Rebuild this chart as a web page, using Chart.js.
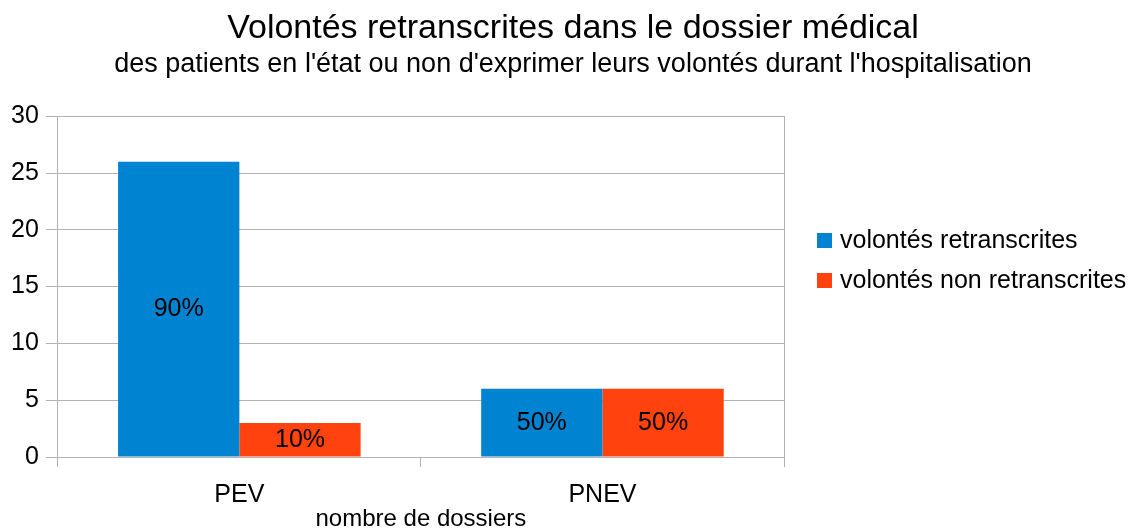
<!DOCTYPE html>
<html>
<head>
<meta charset="utf-8">
<script src="https://cdn.jsdelivr.net/npm/chart.js@4/dist/chart.umd.min.js"></script>
<style>
  html, body { margin: 0; padding: 0; background: #fff; }
  #wrap { width: 1142px; height: 531px; }
</style>
</head>
<body>
<div id="wrap"><canvas id="c1"></canvas></div>
<script>
  // data
  var categories = ['PEV', 'PNEV']
  var seriesNames = ['volontés retranscrites', 'volontés non retranscrites']
  var retranscrites = [26, 6]
  var nonRetranscrites = [3, 6]
  var pctRetranscrites = ['90%', '50%']
  var pctNonRetranscrites = ['10%', '50%']
  var colors = ['#0084d1', '#ff420e']

  var font = '"Liberation Sans", Arial, sans-serif'
  var gridColor = '#b3b3b3'

  // percent labels inside bars
  var barLabels = {
    id: 'barLabels',
    afterDatasetsDraw: function(chart) {
      var ctx = chart.ctx
      var labels = [pctRetranscrites, pctNonRetranscrites]
      ctx.save()
      ctx.font = '25px ' + font
      ctx.fillStyle = '#000'
      ctx.textAlign = 'center'
      ctx.textBaseline = 'middle'
      chart.data.datasets.forEach(function(ds, i) {
        chart.getDatasetMeta(i).data.forEach(function(bar, j) {
          var mid = (bar.y + bar.base) / 2
          ctx.fillText(labels[i][j], bar.x, mid)
        })
      })
      ctx.restore()
    }
  }

  // legend on the right side
  var sideLegend = {
    id: 'sideLegend',
    afterDraw: function(chart) {
      var ctx = chart.ctx
      var area = chart.chartArea
      ctx.save()
      ctx.font = '25px ' + font
      ctx.textBaseline = 'middle'
      var x = area.right + 33
      var y = 241
      chart.data.datasets.forEach(function(ds, i) {
        ctx.fillStyle = ds.backgroundColor
        ctx.fillRect(x, y + i * 40 - 8, 15, 15)
        ctx.fillStyle = '#000'
        ctx.fillText(ds.label, x + 23, y + i * 40)
      })
      ctx.restore()
    }
  }

  var ctx = document.getElementById('c1')
  var chart1 = new Chart(ctx, {
    type: 'bar',
    data: {
      labels: categories,
      datasets: [{
        label: seriesNames[0],
        data: retranscrites,
        backgroundColor: colors[0]
      }, {
        label: seriesNames[1],
        data: nonRetranscrites,
        backgroundColor: colors[1]
      }]
    },
    options: {
      responsive: true,
      maintainAspectRatio: false,
      animation: false,
      categoryPercentage: 0.668,
      barPercentage: 1,
      layout: { padding: { left: 4, right: 0, top: 0, bottom: 0 } },
      plugins: {
        legend: { display: false },
        tooltip: { enabled: false },
        title: {
          display: true,
          text: 'Volontés retranscrites dans le dossier médical',
          color: '#000',
          font: { family: font, size: 34, weight: 'normal' },
          padding: { top: 8, bottom: 0 }
        },
        subtitle: {
          display: true,
          text: "des patients en l'état ou non d'exprimer leurs volontés durant l'hospitalisation",
          color: '#000',
          font: { family: font, size: 27, weight: 'normal' },
          padding: { top: 0, bottom: 35 }
        }
      },
      scales: {
        x: {
          grid: {
            offset: true,
            color: function(c) { return c.index === 1 ? 'rgba(0,0,0,0)' : gridColor },
            tickColor: gridColor,
            tickLength: 10
          },
          border: { color: gridColor },
          ticks: { color: '#000', font: { family: font, size: 25, lineHeight: 1 }, padding: 16 },
          title: {
            display: true,
            text: 'nombre de dossiers',
            color: '#000',
            font: { family: font, size: 24, lineHeight: 1 },
            padding: { top: -17, bottom: 0 }
          }
        },
        y: {
          min: 0,
          max: 30,
          ticks: { stepSize: 5, color: '#000', font: { family: font, size: 25 }, padding: 7 },
          grid: { color: gridColor, tickLength: 12 },
          border: { color: gridColor }
        },
        // empty right axis: frames the plot and leaves room for the legend
        yRight: {
          position: 'right',
          min: 0,
          max: 30,
          ticks: { display: false },
          grid: { display: false },
          border: { color: gridColor },
          afterFit: function(scale) { scale.width = 358 }
        }
      }
    },
    plugins: [barLabels, sideLegend]
  })
</script>
</body>
</html>
